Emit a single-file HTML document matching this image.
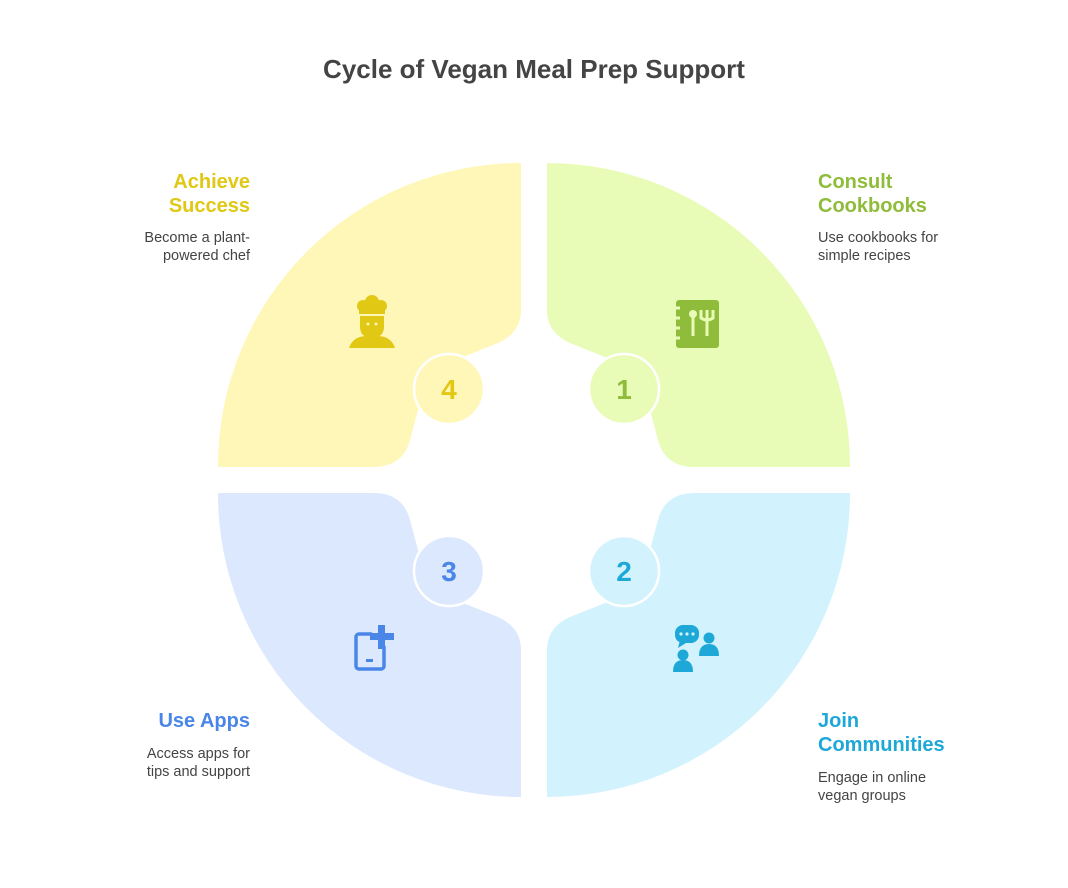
<!DOCTYPE html>
<html><head><meta charset="utf-8"><style>
body{margin:0;background:#fff;width:1068px;height:888px;overflow:hidden;font-family:"Liberation Sans",sans-serif}
.t{position:absolute;font-weight:bold;font-size:20px;line-height:24px}
.d{position:absolute;font-size:14.5px;line-height:18px;color:#444}
</style></head><body>
<svg width="1068" height="888" style="position:absolute;left:0;top:0">
<defs>
<path id="q" d="M547,163 A303,303 0 0 1 850,467 L695,467 Q665,467 658,440 L650,410 Q640,370 600,355 L575,345 Q547,335 547,310 Z"/>
</defs>
<use href="#q" fill="#e8fcb8"/>
<use href="#q" fill="#d2f3fd" transform="translate(0,960) scale(1,-1)"/>
<use href="#q" fill="#dce8fe" transform="translate(1068,960) scale(-1,-1)"/>
<use href="#q" fill="#fff7b8" transform="translate(1068,0) scale(-1,1)"/>
<g stroke="#fff" stroke-width="2.5">
<circle cx="624" cy="389" r="35" fill="#e8fcb8"/>
<circle cx="624" cy="571" r="35" fill="#d2f3fd"/>
<circle cx="449" cy="571" r="35" fill="#dce8fe"/>
<circle cx="449" cy="389" r="35" fill="#fff7b8"/>
</g>
<g font-family="Liberation Sans" font-weight="bold" font-size="28" text-anchor="middle">
<text x="624" y="399" fill="#8fbc3a">1</text>
<text x="624" y="581" fill="#1ea8d8">2</text>
<text x="449" y="581" fill="#4a86e8">3</text>
<text x="449" y="399" fill="#e0c814">4</text>
</g>
<rect x="676" y="300" width="43" height="48" rx="3" fill="#8fbc3a"/>
<g stroke="#e8fcb8" stroke-width="3"><line x1="672" y1="308" x2="680" y2="308"/><line x1="672" y1="318" x2="680" y2="318"/><line x1="672" y1="328" x2="680" y2="328"/><line x1="672" y1="338" x2="680" y2="338"/>
<line x1="693" y1="316" x2="693" y2="336"/><line x1="707" y1="310" x2="707" y2="336"/><path d="M701,310 v8 q6,4 12,0 v-8" fill="none"/></g>
<circle cx="693" cy="314" r="4" fill="#e8fcb8"/>
<g fill="#1ea8d8"><rect x="675" y="625" width="24" height="18" rx="8"/><path d="M680,640 l-2,8 8,-5z"/>
<circle cx="683" cy="655" r="5.5"/><path d="M673,672 q0,-12 10,-12 q10,0 10,12z"/>
<circle cx="709" cy="638" r="5.5"/><path d="M699,656 q0,-12 10,-12 q10,0 10,12z"/></g>
<g fill="#d2f3fd"><circle cx="681" cy="634" r="1.6"/><circle cx="687" cy="634" r="1.6"/><circle cx="693" cy="634" r="1.6"/></g>
<rect x="356" y="634" width="28" height="35" rx="3" fill="none" stroke="#4a86e8" stroke-width="3.5"/>
<rect x="372" y="624" width="22" height="22" fill="#dce8fe"/>
<path d="M378,625 h7 v8 h9 v7 h-9 v9 h-7 v-9 h-8 v-7 h8z" fill="#4a86e8"/>
<rect x="366" y="659" width="7" height="3" fill="#4a86e8"/>
<g fill="#e0c814"><circle cx="363" cy="306" r="6"/><circle cx="372" cy="302" r="7"/><circle cx="381" cy="306" r="6"/><rect x="359" y="304" width="26" height="10"/>
<path d="M360,316 h24 v10 q0,12 -12,12 q-12,0 -12,-12z"/><path d="M349,348 q4,-12 18,-12 h10 q14,0 18,12z"/></g>
<g fill="#fff7b8"><circle cx="368" cy="324" r="1.5"/><circle cx="376" cy="324" r="1.5"/></g>
</svg>
<div class="t" style="left:234px;width:600px;top:54px;text-align:center;font-size:26px;line-height:30px;color:#444">Cycle of Vegan Meal Prep Support</div>
<div class="t" style="left:818px;top:170px;color:#8fbc3a">Consult<br>Cookbooks</div>
<div class="d" style="left:818px;top:229px">Use cookbooks for<br>simple recipes</div>
<div class="t" style="left:818px;top:709px;color:#1ea8d8">Join<br>Communities</div>
<div class="d" style="left:818px;top:769px">Engage in online<br>vegan groups</div>
<div class="t" style="right:818px;top:709px;color:#4a86e8;text-align:right">Use Apps</div>
<div class="d" style="right:818px;top:745px;text-align:right">Access apps for<br>tips and support</div>
<div class="t" style="right:818px;top:170px;color:#e0c814;text-align:right">Achieve<br>Success</div>
<div class="d" style="right:818px;top:229px;text-align:right">Become a plant-<br>powered chef</div>
</body></html>
